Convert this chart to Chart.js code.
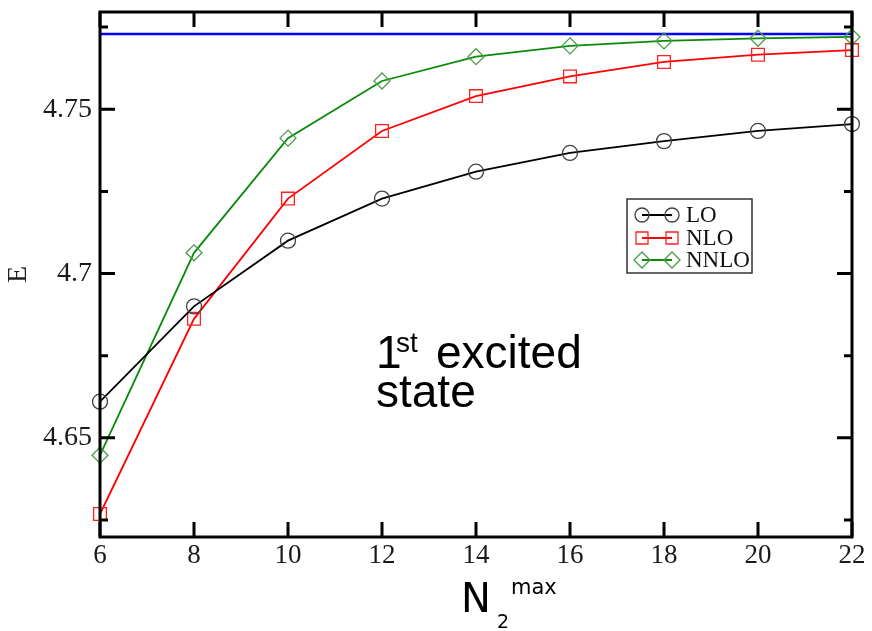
<!DOCTYPE html>
<html>
<head>
<meta charset="utf-8">
<script src="https://cdn.jsdelivr.net/npm/chart.js@4/dist/chart.umd.min.js"></script>
<style>
  html, body { margin: 0; padding: 0; background: #fff; }
  #wrap { width: 872px; height: 631px; }
</style>
</head>
<body>
<div id="wrap"><canvas id="c" width="872" height="631"></canvas></div>
<script>
// data
const nmax = [6, 8, 10, 12, 14, 16, 18, 20, 22];
const lo   = [4.661, 4.690, 4.710, 4.7228, 4.731, 4.7367, 4.7403, 4.7434, 4.7455];
const nlo  = [4.6268, 4.6862, 4.7228, 4.7434, 4.754, 4.760, 4.7644, 4.7666, 4.768];
const nnlo = [4.6447, 4.7063, 4.7412, 4.7586, 4.766, 4.7693, 4.7708, 4.7716, 4.772];
const exact = 4.7729;
const xTicks = [6, 8, 10, 12, 14, 16, 18, 20, 22];
const yTicks = [4.65, 4.7, 4.75];
const yMinor = [4.625, 4.675, 4.725, 4.775];
const seriesNames = ['LO', 'NLO', 'NNLO'];

const pts = arr => arr.map((v, i) => ({ x: nmax[i], y: v }));
const serif = "'Liberation Serif', 'DejaVu Serif', serif";

// frame, inward ticks, legend and free text
const extras = {
  id: 'extras',
  afterDraw(chart) {
    const ctx = chart.ctx;
    const a = chart.chartArea;
    const xs = chart.scales.x, ys = chart.scales.y;
    ctx.save();
    ctx.strokeStyle = '#000';
    ctx.lineWidth = 3;
    ctx.strokeRect(a.left, a.top, a.right - a.left, a.bottom - a.top);
    ctx.beginPath();
    xTicks.forEach(v => {
      const px = xs.getPixelForValue(v);
      ctx.moveTo(px, a.bottom); ctx.lineTo(px, a.bottom - 15);
      ctx.moveTo(px, a.top); ctx.lineTo(px, a.top + 15);
    });
    yTicks.forEach(v => {
      const py = ys.getPixelForValue(v);
      ctx.moveTo(a.left, py); ctx.lineTo(a.left + 15, py);
      ctx.moveTo(a.right, py); ctx.lineTo(a.right - 15, py);
    });
    yMinor.forEach(v => {
      const py = ys.getPixelForValue(v);
      ctx.moveTo(a.left, py); ctx.lineTo(a.left + 8, py);
      ctx.moveTo(a.right, py); ctx.lineTo(a.right - 8, py);
    });
    ctx.stroke();

    // legend
    ctx.fillStyle = '#fff';
    ctx.fillRect(627, 199, 125, 74);
    ctx.lineWidth = 1.5;
    ctx.strokeStyle = '#333';
    ctx.strokeRect(627, 199, 125, 74);
    const rows = [215, 238, 260];
    chart.data.datasets.slice(0, 3).forEach((ds, i) => {
      const y = rows[i];
      ctx.strokeStyle = ds.borderColor;
      ctx.lineWidth = 2;
      ctx.beginPath(); ctx.moveTo(642, y); ctx.lineTo(672, y); ctx.stroke();
      ctx.strokeStyle = ds.pointBorderColor;
      ctx.lineWidth = 1.3;
      [642, 672].forEach(cx => {
        ctx.beginPath();
        if (ds.pointStyle === 'circle') ctx.arc(cx, y, 7, 0, Math.PI * 2);
        else if (ds.pointStyle === 'rect') ctx.rect(cx - 6, y - 6, 12, 12);
        else { ctx.moveTo(cx - 8, y); ctx.lineTo(cx, y - 8); ctx.lineTo(cx + 8, y); ctx.lineTo(cx, y + 8); ctx.closePath(); }
        ctx.stroke();
      });
      ctx.fillStyle = '#111';
      ctx.font = '23px ' + serif;
      ctx.textBaseline = 'middle';
      ctx.textAlign = 'left';
      ctx.fillText(ds.label, 686, y + 1);
    });

    // annotation
    ctx.fillStyle = '#000';
    ctx.textBaseline = 'alphabetic';
    ctx.font = "46px 'Liberation Sans', Arial, sans-serif";
    ctx.fillText('1', 376, 368);
    ctx.font = "28px 'Liberation Sans', Arial, sans-serif";
    ctx.fillText('st', 396, 352);
    ctx.font = "46px 'Liberation Sans', Arial, sans-serif";
    ctx.fillText('excited', 436, 368);
    ctx.fillText('state', 376, 407);

    // x title
    ctx.font = "40px 'DejaVu Sans', sans-serif";
    ctx.fillText('N', 461, 612);
    ctx.font = "19px 'DejaVu Sans', sans-serif";
    ctx.fillText('2', 497, 628);
    ctx.font = "21px 'DejaVu Sans', sans-serif";
    ctx.fillText('max', 511, 594);
    ctx.restore();
  }
};

new Chart(document.getElementById('c'), {
  type: 'line',
  data: {
    datasets: [
      {
        label: seriesNames[0], data: pts(lo),
        borderColor: '#000', borderWidth: 1.8,
        pointStyle: 'circle', pointRadius: 7.5, pointBorderWidth: 1.3,
        pointBorderColor: '#404040', pointBackgroundColor: 'rgba(0,0,0,0)',
        clip: false
      },
      {
        label: seriesNames[1], data: pts(nlo),
        borderColor: '#ff0000', borderWidth: 1.8,
        pointStyle: 'rect', pointRadius: 9, pointBorderWidth: 1.3,
        pointBorderColor: '#ff2020', pointBackgroundColor: 'rgba(0,0,0,0)',
        clip: false
      },
      {
        label: seriesNames[2], data: pts(nnlo),
        borderColor: '#0a8a0a', borderWidth: 1.8,
        pointStyle: 'rectRot', pointRadius: 8, pointBorderWidth: 1.3,
        pointBorderColor: '#4c9a4c', pointBackgroundColor: 'rgba(0,0,0,0)',
        clip: false
      },
      {
        label: 'exact', data: [{ x: nmax[0], y: exact }, { x: nmax[nmax.length - 1], y: exact }],
        borderColor: '#0000ff', borderWidth: 2.5, pointRadius: 0
      }
    ]
  },
  options: {
    responsive: false,
    animation: false,
    devicePixelRatio: 1,
    layout: { padding: { top: 12, right: 20, left: 0, bottom: 0 } },
    plugins: { legend: { display: false }, tooltip: { enabled: false } },
    scales: {
      x: {
        type: 'linear', min: 6, max: 22,
        afterBuildTicks: s => { s.ticks = xTicks.map(v => ({ value: v })); },
        afterFit: s => { s.height = 94; s.paddingLeft = 0; s.paddingRight = 0; },
        grid: { display: false, drawTicks: false },
        border: { display: false },
        ticks: { font: { family: serif, size: 27 }, color: '#1a1a1a', padding: 3, maxRotation: 0 }
      },
      y: {
        min: 4.6198, max: 4.7796,
        afterBuildTicks: s => { s.ticks = yTicks.map(v => ({ value: v })); },
        afterFit: s => { s.width = 100; s.paddingTop = 0; s.paddingBottom = 0; },
        grid: { display: false, drawTicks: false },
        border: { display: false },
        ticks: { font: { family: serif, size: 28 }, color: '#1a1a1a', padding: 8, callback: v => String(v) },
        title: { display: true, text: 'E', font: { family: serif, size: 28 }, color: '#222', padding: { top: 2 } }
      }
    }
  },
  plugins: [extras]
});
</script>
</body>
</html>
